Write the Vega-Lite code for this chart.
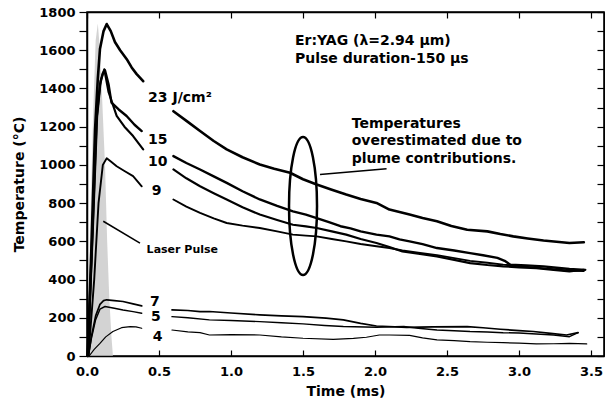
{
  "$schema": "https://vega.github.io/schema/vega-lite/v6.json",
  "width": 517,
  "height": 344,
  "autosize": {"type": "none"},
  "padding": {"left": 87, "top": 12, "right": 1, "bottom": 48},
  "background": "white",
  "resolve": {"axis": {"x": "independent", "y": "independent"}},
  "config": {
    "view": {"stroke": "black", "strokeWidth": 1.5},
    "axis": {
      "grid": false,
      "domainColor": "black",
      "tickColor": "black",
      "labelColor": "black",
      "titleColor": "black",
      "labelFont": "DejaVu Sans",
      "labelFontWeight": "bold",
      "labelFontSize": 13,
      "titleFont": "DejaVu Sans",
      "titleFontWeight": "bold",
      "titleFontSize": 14,
      "domainWidth": 1.5,
      "tickWidth": 1.2,
      "labelFlush": false,
      "labelOverlap": false
    }
  },
  "datasets": {
    "pulse": [
      {"t": 0.005, "T": 0}, {"t": 0.02, "T": 600}, {"t": 0.04, "T": 1200}, {"t": 0.06, "T": 1650},
      {"t": 0.075, "T": 1740}, {"t": 0.09, "T": 1600}, {"t": 0.105, "T": 1350}, {"t": 0.125, "T": 1000},
      {"t": 0.14, "T": 600}, {"t": 0.155, "T": 300}, {"t": 0.17, "T": 100}, {"t": 0.18, "T": 0}
    ],
    "curves": [
      {"curve": "23", "part": 1, "t": 0.005, "T": 0}, {"curve": "23", "part": 1, "t": 0.03, "T": 550},
      {"curve": "23", "part": 1, "t": 0.056, "T": 1186}, {"curve": "23", "part": 1, "t": 0.075, "T": 1450},
      {"curve": "23", "part": 1, "t": 0.09, "T": 1606}, {"curve": "23", "part": 1, "t": 0.115, "T": 1700},
      {"curve": "23", "part": 1, "t": 0.137, "T": 1737}, {"curve": "23", "part": 1, "t": 0.165, "T": 1700},
      {"curve": "23", "part": 1, "t": 0.194, "T": 1643}, {"curve": "23", "part": 1, "t": 0.23, "T": 1600},
      {"curve": "23", "part": 1, "t": 0.276, "T": 1553}, {"curve": "23", "part": 1, "t": 0.31, "T": 1510},
      {"curve": "23", "part": 1, "t": 0.345, "T": 1475}, {"curve": "23", "part": 1, "t": 0.39, "T": 1438},
      {"curve": "23", "part": 2, "t": 0.6, "T": 1281}, {"curve": "23", "part": 2, "t": 0.7, "T": 1225},
      {"curve": "23", "part": 2, "t": 0.785, "T": 1177}, {"curve": "23", "part": 2, "t": 0.88, "T": 1125},
      {"curve": "23", "part": 2, "t": 0.97, "T": 1081}, {"curve": "23", "part": 2, "t": 1.08, "T": 1040},
      {"curve": "23", "part": 2, "t": 1.2, "T": 1002}, {"curve": "23", "part": 2, "t": 1.3, "T": 980},
      {"curve": "23", "part": 2, "t": 1.41, "T": 959}, {"curve": "23", "part": 2, "t": 1.5, "T": 925},
      {"curve": "23", "part": 2, "t": 1.595, "T": 897}, {"curve": "23", "part": 2, "t": 1.7, "T": 870},
      {"curve": "23", "part": 2, "t": 1.8, "T": 845}, {"curve": "23", "part": 2, "t": 1.9, "T": 822},
      {"curve": "23", "part": 2, "t": 2.01, "T": 801}, {"curve": "23", "part": 2, "t": 2.1, "T": 766},
      {"curve": "23", "part": 2, "t": 2.24, "T": 740}, {"curve": "23", "part": 2, "t": 2.33, "T": 722},
      {"curve": "23", "part": 2, "t": 2.43, "T": 705}, {"curve": "23", "part": 2, "t": 2.53, "T": 680},
      {"curve": "23", "part": 2, "t": 2.64, "T": 661}, {"curve": "23", "part": 2, "t": 2.78, "T": 652},
      {"curve": "23", "part": 2, "t": 2.87, "T": 638}, {"curve": "23", "part": 2, "t": 2.96, "T": 626},
      {"curve": "23", "part": 2, "t": 3.06, "T": 615}, {"curve": "23", "part": 2, "t": 3.17, "T": 604},
      {"curve": "23", "part": 2, "t": 3.26, "T": 598}, {"curve": "23", "part": 2, "t": 3.35, "T": 591},
      {"curve": "23", "part": 2, "t": 3.45, "T": 595},

      {"curve": "15", "part": 1, "t": 0.005, "T": 0}, {"curve": "15", "part": 1, "t": 0.035, "T": 600},
      {"curve": "15", "part": 1, "t": 0.067, "T": 1250}, {"curve": "15", "part": 1, "t": 0.09, "T": 1420},
      {"curve": "15", "part": 1, "t": 0.11, "T": 1480}, {"curve": "15", "part": 1, "t": 0.125, "T": 1495},
      {"curve": "15", "part": 1, "t": 0.15, "T": 1420}, {"curve": "15", "part": 1, "t": 0.17, "T": 1326},
      {"curve": "15", "part": 1, "t": 0.22, "T": 1290}, {"curve": "15", "part": 1, "t": 0.275, "T": 1256},
      {"curve": "15", "part": 1, "t": 0.33, "T": 1210}, {"curve": "15", "part": 1, "t": 0.38, "T": 1177},
      {"curve": "15", "part": 2, "t": 0.6, "T": 1046}, {"curve": "15", "part": 2, "t": 0.69, "T": 1010},
      {"curve": "15", "part": 2, "t": 0.785, "T": 976}, {"curve": "15", "part": 2, "t": 0.88, "T": 940},
      {"curve": "15", "part": 2, "t": 0.97, "T": 906}, {"curve": "15", "part": 2, "t": 1.08, "T": 862},
      {"curve": "15", "part": 2, "t": 1.2, "T": 819}, {"curve": "15", "part": 2, "t": 1.32, "T": 785},
      {"curve": "15", "part": 2, "t": 1.43, "T": 757}, {"curve": "15", "part": 2, "t": 1.52, "T": 740},
      {"curve": "15", "part": 2, "t": 1.595, "T": 722}, {"curve": "15", "part": 2, "t": 1.68, "T": 700},
      {"curve": "15", "part": 2, "t": 1.76, "T": 679}, {"curve": "15", "part": 2, "t": 1.83, "T": 668},
      {"curve": "15", "part": 2, "t": 1.9, "T": 652}, {"curve": "15", "part": 2, "t": 2.01, "T": 635},
      {"curve": "15", "part": 2, "t": 2.1, "T": 626}, {"curve": "15", "part": 2, "t": 2.17, "T": 610},
      {"curve": "15", "part": 2, "t": 2.24, "T": 600}, {"curve": "15", "part": 2, "t": 2.33, "T": 585},
      {"curve": "15", "part": 2, "t": 2.43, "T": 565}, {"curve": "15", "part": 2, "t": 2.55, "T": 552},
      {"curve": "15", "part": 2, "t": 2.66, "T": 538}, {"curve": "15", "part": 2, "t": 2.75, "T": 527},
      {"curve": "15", "part": 2, "t": 2.85, "T": 513}, {"curve": "15", "part": 2, "t": 2.9, "T": 498},
      {"curve": "15", "part": 2, "t": 2.94, "T": 478}, {"curve": "15", "part": 2, "t": 3.05, "T": 474},
      {"curve": "15", "part": 2, "t": 3.17, "T": 469}, {"curve": "15", "part": 2, "t": 3.26, "T": 462},
      {"curve": "15", "part": 2, "t": 3.35, "T": 455}, {"curve": "15", "part": 2, "t": 3.46, "T": 451},

      {"curve": "10", "part": 1, "t": 0.005, "T": 0}, {"curve": "10", "part": 1, "t": 0.04, "T": 650},
      {"curve": "10", "part": 1, "t": 0.07, "T": 1250}, {"curve": "10", "part": 1, "t": 0.095, "T": 1440},
      {"curve": "10", "part": 1, "t": 0.12, "T": 1500}, {"curve": "10", "part": 1, "t": 0.15, "T": 1380},
      {"curve": "10", "part": 1, "t": 0.206, "T": 1256}, {"curve": "10", "part": 1, "t": 0.26, "T": 1200},
      {"curve": "10", "part": 1, "t": 0.32, "T": 1151}, {"curve": "10", "part": 1, "t": 0.39, "T": 1081},
      {"curve": "10", "part": 2, "t": 0.6, "T": 976}, {"curve": "10", "part": 2, "t": 0.69, "T": 930},
      {"curve": "10", "part": 2, "t": 0.785, "T": 888}, {"curve": "10", "part": 2, "t": 0.88, "T": 852},
      {"curve": "10", "part": 2, "t": 0.97, "T": 819}, {"curve": "10", "part": 2, "t": 1.08, "T": 778},
      {"curve": "10", "part": 2, "t": 1.2, "T": 740}, {"curve": "10", "part": 2, "t": 1.32, "T": 712},
      {"curve": "10", "part": 2, "t": 1.43, "T": 687}, {"curve": "10", "part": 2, "t": 1.52, "T": 678},
      {"curve": "10", "part": 2, "t": 1.595, "T": 670}, {"curve": "10", "part": 2, "t": 1.7, "T": 652},
      {"curve": "10", "part": 2, "t": 1.8, "T": 635}, {"curve": "10", "part": 2, "t": 1.9, "T": 612},
      {"curve": "10", "part": 2, "t": 2.01, "T": 591}, {"curve": "10", "part": 2, "t": 2.1, "T": 570},
      {"curve": "10", "part": 2, "t": 2.19, "T": 547}, {"curve": "10", "part": 2, "t": 2.3, "T": 535},
      {"curve": "10", "part": 2, "t": 2.43, "T": 521}, {"curve": "10", "part": 2, "t": 2.55, "T": 503},
      {"curve": "10", "part": 2, "t": 2.66, "T": 486}, {"curve": "10", "part": 2, "t": 2.78, "T": 476},
      {"curve": "10", "part": 2, "t": 2.89, "T": 469}, {"curve": "10", "part": 2, "t": 3.0, "T": 464},
      {"curve": "10", "part": 2, "t": 3.12, "T": 460}, {"curve": "10", "part": 2, "t": 3.24, "T": 450},
      {"curve": "10", "part": 2, "t": 3.35, "T": 442}, {"curve": "10", "part": 2, "t": 3.45, "T": 451},

      {"curve": "9", "part": 1, "t": 0.01, "T": 0}, {"curve": "9", "part": 1, "t": 0.05, "T": 400},
      {"curve": "9", "part": 1, "t": 0.08, "T": 800}, {"curve": "9", "part": 1, "t": 0.11, "T": 1000},
      {"curve": "9", "part": 1, "t": 0.137, "T": 1035}, {"curve": "9", "part": 1, "t": 0.17, "T": 1015},
      {"curve": "9", "part": 1, "t": 0.206, "T": 993}, {"curve": "9", "part": 1, "t": 0.26, "T": 968},
      {"curve": "9", "part": 1, "t": 0.32, "T": 941}, {"curve": "9", "part": 1, "t": 0.38, "T": 888},
      {"curve": "9", "part": 2, "t": 0.6, "T": 819}, {"curve": "9", "part": 2, "t": 0.69, "T": 782},
      {"curve": "9", "part": 2, "t": 0.785, "T": 749}, {"curve": "9", "part": 2, "t": 0.88, "T": 720},
      {"curve": "9", "part": 2, "t": 0.97, "T": 696}, {"curve": "9", "part": 2, "t": 1.08, "T": 682},
      {"curve": "9", "part": 2, "t": 1.2, "T": 670}, {"curve": "9", "part": 2, "t": 1.32, "T": 652},
      {"curve": "9", "part": 2, "t": 1.43, "T": 635}, {"curve": "9", "part": 2, "t": 1.52, "T": 630},
      {"curve": "9", "part": 2, "t": 1.595, "T": 626}, {"curve": "9", "part": 2, "t": 1.7, "T": 612},
      {"curve": "9", "part": 2, "t": 1.8, "T": 600}, {"curve": "9", "part": 2, "t": 1.9, "T": 586},
      {"curve": "9", "part": 2, "t": 2.01, "T": 574}, {"curve": "9", "part": 2, "t": 2.1, "T": 565},
      {"curve": "9", "part": 2, "t": 2.19, "T": 552}, {"curve": "9", "part": 2, "t": 2.3, "T": 540},
      {"curve": "9", "part": 2, "t": 2.43, "T": 528}, {"curve": "9", "part": 2, "t": 2.55, "T": 512},
      {"curve": "9", "part": 2, "t": 2.66, "T": 498}, {"curve": "9", "part": 2, "t": 2.78, "T": 488},
      {"curve": "9", "part": 2, "t": 2.89, "T": 478}, {"curve": "9", "part": 2, "t": 3.0, "T": 470},
      {"curve": "9", "part": 2, "t": 3.12, "T": 462}, {"curve": "9", "part": 2, "t": 3.24, "T": 454},
      {"curve": "9", "part": 2, "t": 3.35, "T": 446}, {"curve": "9", "part": 2, "t": 3.45, "T": 445},

      {"curve": "7", "part": 1, "t": 0.01, "T": 0}, {"curve": "7", "part": 1, "t": 0.03, "T": 100},
      {"curve": "7", "part": 1, "t": 0.06, "T": 210}, {"curve": "7", "part": 1, "t": 0.09, "T": 270},
      {"curve": "7", "part": 1, "t": 0.115, "T": 290}, {"curve": "7", "part": 1, "t": 0.137, "T": 294},
      {"curve": "7", "part": 1, "t": 0.19, "T": 290}, {"curve": "7", "part": 1, "t": 0.25, "T": 285},
      {"curve": "7", "part": 1, "t": 0.32, "T": 273}, {"curve": "7", "part": 1, "t": 0.38, "T": 262},
      {"curve": "7", "part": 2, "t": 0.59, "T": 241}, {"curve": "7", "part": 2, "t": 0.7, "T": 238},
      {"curve": "7", "part": 2, "t": 0.785, "T": 232}, {"curve": "7", "part": 2, "t": 0.85, "T": 233},
      {"curve": "7", "part": 2, "t": 1.0, "T": 225}, {"curve": "7", "part": 2, "t": 1.2, "T": 215},
      {"curve": "7", "part": 2, "t": 1.35, "T": 210}, {"curve": "7", "part": 2, "t": 1.5, "T": 206},
      {"curve": "7", "part": 2, "t": 1.66, "T": 198}, {"curve": "7", "part": 2, "t": 1.78, "T": 189},
      {"curve": "7", "part": 2, "t": 1.9, "T": 171}, {"curve": "7", "part": 2, "t": 2.01, "T": 157},
      {"curve": "7", "part": 2, "t": 2.22, "T": 150}, {"curve": "7", "part": 2, "t": 2.4, "T": 152},
      {"curve": "7", "part": 2, "t": 2.64, "T": 154}, {"curve": "7", "part": 2, "t": 2.75, "T": 148},
      {"curve": "7", "part": 2, "t": 2.87, "T": 140}, {"curve": "7", "part": 2, "t": 3.0, "T": 133},
      {"curve": "7", "part": 2, "t": 3.1, "T": 128}, {"curve": "7", "part": 2, "t": 3.22, "T": 118},
      {"curve": "7", "part": 2, "t": 3.33, "T": 110}, {"curve": "7", "part": 2, "t": 3.41, "T": 122},

      {"curve": "5", "part": 1, "t": 0.01, "T": 0}, {"curve": "5", "part": 1, "t": 0.03, "T": 90},
      {"curve": "5", "part": 1, "t": 0.06, "T": 190}, {"curve": "5", "part": 1, "t": 0.09, "T": 245},
      {"curve": "5", "part": 1, "t": 0.125, "T": 259}, {"curve": "5", "part": 1, "t": 0.19, "T": 250},
      {"curve": "5", "part": 1, "t": 0.25, "T": 241}, {"curve": "5", "part": 1, "t": 0.32, "T": 232},
      {"curve": "5", "part": 1, "t": 0.38, "T": 224},
      {"curve": "5", "part": 2, "t": 0.59, "T": 206}, {"curve": "5", "part": 2, "t": 0.7, "T": 200},
      {"curve": "5", "part": 2, "t": 0.85, "T": 189}, {"curve": "5", "part": 2, "t": 1.0, "T": 186},
      {"curve": "5", "part": 2, "t": 1.2, "T": 180}, {"curve": "5", "part": 2, "t": 1.35, "T": 174},
      {"curve": "5", "part": 2, "t": 1.5, "T": 168}, {"curve": "5", "part": 2, "t": 1.65, "T": 160},
      {"curve": "5", "part": 2, "t": 1.78, "T": 154}, {"curve": "5", "part": 2, "t": 2.01, "T": 150},
      {"curve": "5", "part": 2, "t": 2.2, "T": 154}, {"curve": "5", "part": 2, "t": 2.3, "T": 145},
      {"curve": "5", "part": 2, "t": 2.43, "T": 136}, {"curve": "5", "part": 2, "t": 2.55, "T": 132},
      {"curve": "5", "part": 2, "t": 2.66, "T": 128}, {"curve": "5", "part": 2, "t": 2.78, "T": 126},
      {"curve": "5", "part": 2, "t": 2.89, "T": 122}, {"curve": "5", "part": 2, "t": 3.0, "T": 120},
      {"curve": "5", "part": 2, "t": 3.12, "T": 115}, {"curve": "5", "part": 2, "t": 3.24, "T": 110},
      {"curve": "5", "part": 2, "t": 3.35, "T": 101}, {"curve": "5", "part": 2, "t": 3.41, "T": 122},

      {"curve": "4", "part": 1, "t": 0.015, "T": 0}, {"curve": "4", "part": 1, "t": 0.05, "T": 35},
      {"curve": "4", "part": 1, "t": 0.09, "T": 66}, {"curve": "4", "part": 1, "t": 0.13, "T": 100},
      {"curve": "4", "part": 1, "t": 0.18, "T": 128}, {"curve": "4", "part": 1, "t": 0.24, "T": 148},
      {"curve": "4", "part": 1, "t": 0.3, "T": 154}, {"curve": "4", "part": 1, "t": 0.34, "T": 152},
      {"curve": "4", "part": 1, "t": 0.38, "T": 145},
      {"curve": "4", "part": 2, "t": 0.59, "T": 136}, {"curve": "4", "part": 2, "t": 0.7, "T": 126},
      {"curve": "4", "part": 2, "t": 0.785, "T": 122}, {"curve": "4", "part": 2, "t": 0.85, "T": 110},
      {"curve": "4", "part": 2, "t": 1.0, "T": 112}, {"curve": "4", "part": 2, "t": 1.2, "T": 110},
      {"curve": "4", "part": 2, "t": 1.35, "T": 100}, {"curve": "4", "part": 2, "t": 1.5, "T": 93},
      {"curve": "4", "part": 2, "t": 1.71, "T": 87}, {"curve": "4", "part": 2, "t": 1.85, "T": 92},
      {"curve": "4", "part": 2, "t": 1.94, "T": 98}, {"curve": "4", "part": 2, "t": 2.03, "T": 110},
      {"curve": "4", "part": 2, "t": 2.1, "T": 110}, {"curve": "4", "part": 2, "t": 2.24, "T": 108},
      {"curve": "4", "part": 2, "t": 2.33, "T": 95}, {"curve": "4", "part": 2, "t": 2.43, "T": 84},
      {"curve": "4", "part": 2, "t": 2.55, "T": 80}, {"curve": "4", "part": 2, "t": 2.66, "T": 75},
      {"curve": "4", "part": 2, "t": 2.78, "T": 72}, {"curve": "4", "part": 2, "t": 2.89, "T": 70},
      {"curve": "4", "part": 2, "t": 3.0, "T": 67}, {"curve": "4", "part": 2, "t": 3.12, "T": 63},
      {"curve": "4", "part": 2, "t": 3.24, "T": 64}, {"curve": "4", "part": 2, "t": 3.35, "T": 66},
      {"curve": "4", "part": 2, "t": 3.47, "T": 63}
    ],
    "curveLabels": [
      {"t": 0.424, "T": 1349, "text": "23 J/cm²"},
      {"t": 0.424, "T": 1128, "text": "15"},
      {"t": 0.424, "T": 1015, "text": "10"},
      {"t": 0.45, "T": 862, "text": "9"},
      {"t": 0.4375, "T": 285, "text": "7"},
      {"t": 0.445, "T": 205, "text": "5"},
      {"t": 0.456, "T": 101, "text": "4"}
    ],
    "notes": [
      {"t": 1.444, "T": 1650, "text": "Er:YAG (λ=2.94 µm)"},
      {"t": 1.444, "T": 1553, "text": "Pulse duration-150 µs"},
      {"t": 1.838, "T": 1212, "text": "Temperatures"},
      {"t": 1.838, "T": 1125, "text": "overestimated due to"},
      {"t": 1.838, "T": 1032, "text": "plume contributions."}
    ],
    "pointers": [
      {"t": 0.113, "T": 705, "t2": 0.368, "T2": 591},
      {"t": 1.618, "T": 950, "t2": 2.08, "T2": 980}
    ],
    "laserLabel": [{"t": 0.414, "T": 553, "text": "Laser Pulse"}],
    "ellipse": [{"t": 1.5, "T": 785}]
  },
  "layer": [
    {
      "data": {"name": "pulse"},
      "mark": {"type": "area", "color": "#c4c4c4", "opacity": 0.75},
      "encoding": {
        "x": {
          "field": "t", "type": "quantitative",
          "scale": {"domain": [0, 3.59], "nice": false, "zero": false},
          "axis": {
            "orient": "bottom",
            "values": [0, 0.5, 1, 1.5, 2, 2.5, 3, 3.5],
            "format": ".1f",
            "tickSize": -6,
            "labelPadding": 15,
            "title": "Time (ms)",
            "titlePadding": 6
          }
        },
        "y": {
          "field": "T", "type": "quantitative",
          "scale": {"domain": [0, 1800], "nice": false},
          "axis": {
            "orient": "left",
            "values": [0, 100, 200, 300, 400, 500, 600, 700, 800, 900, 1000, 1100, 1200, 1300, 1400, 1500, 1600, 1700, 1800],
            "format": "d",
            "labelExpr": "datum.value % 200 === 0 ? datum.label : ''",
            "tickSize": 8,
            "labelPadding": 4,
            "title": "Temperature (°C)",
            "titlePadding": 12,
            "encode": {"ticks": {"update": {"x2": {"signal": "datum.value % 200 === 0 ? -8 : 5"}}}}
          }
        }
      }
    },
    {
      "data": {"name": "curves"},
      "mark": {"type": "line", "color": "black", "strokeJoin": "round", "strokeCap": "round"},
      "encoding": {
        "x": {
          "field": "t", "type": "quantitative",
          "axis": {
            "orient": "top",
            "values": [0, 0.5, 1, 1.5, 2, 2.5, 3, 3.5],
            "labels": false,
            "tickSize": -6,
            "title": null
          }
        },
        "y": {
          "field": "T", "type": "quantitative",
          "axis": {
            "orient": "right",
            "values": [0, 100, 200, 300, 400, 500, 600, 700, 800, 900, 1000, 1100, 1200, 1300, 1400, 1500, 1600, 1700, 1800],
            "labels": false,
            "tickSize": -7,
            "title": null
          }
        },
        "detail": [{"field": "curve"}, {"field": "part"}],
        "strokeWidth": {
          "field": "curve", "type": "nominal",
          "scale": {"domain": ["23", "15", "10", "9", "7", "5", "4"], "range": [2.6, 1.2, 2.6, 1.2, 1.2, 2.6, 1.2]},
          "legend": null
        },
        "order": {"field": "t", "type": "quantitative"}
      }
    },
    {
      "data": {"name": "pointers"},
      "mark": {"type": "rule", "color": "black"},
      "encoding": {
        "x": {"field": "t", "type": "quantitative", "axis": null},
        "y": {"field": "T", "type": "quantitative", "axis": null},
        "x2": {"field": "t2"},
        "y2": {"field": "T2"},
        "strokeWidth": {"value": 1.5}
      }
    },
    {
      "data": {"name": "ellipse"},
      "mark": {
        "type": "point",
        "shape": "M0,-1A0.203,1,0,1,1,0,1A0.203,1,0,1,1,0,-1Z",
        "size": 19044,
        "filled": false,
        "stroke": "black",
        "strokeWidth": 2.5,
        "opacity": 1
      },
      "encoding": {
        "x": {"field": "t", "type": "quantitative", "axis": null},
        "y": {"field": "T", "type": "quantitative", "axis": null}
      }
    },
    {
      "data": {"name": "curveLabels"},
      "mark": {"type": "text", "align": "left", "baseline": "middle", "font": "DejaVu Sans", "fontWeight": "bold", "fontSize": 14, "color": "black"},
      "encoding": {
        "x": {"field": "t", "type": "quantitative", "axis": null},
        "y": {"field": "T", "type": "quantitative", "axis": null},
        "text": {"field": "text"}
      }
    },
    {
      "data": {"name": "notes"},
      "mark": {"type": "text", "align": "left", "baseline": "middle", "font": "DejaVu Sans", "fontWeight": "bold", "fontSize": 14, "color": "black"},
      "encoding": {
        "x": {"field": "t", "type": "quantitative", "axis": null},
        "y": {"field": "T", "type": "quantitative", "axis": null},
        "text": {"field": "text"}
      }
    },
    {
      "data": {"name": "laserLabel"},
      "mark": {"type": "text", "align": "left", "baseline": "middle", "font": "DejaVu Sans", "fontWeight": "bold", "fontSize": 11, "color": "black"},
      "encoding": {
        "x": {"field": "t", "type": "quantitative", "axis": null},
        "y": {"field": "T", "type": "quantitative", "axis": null},
        "text": {"field": "text"}
      }
    }
  ]
}
